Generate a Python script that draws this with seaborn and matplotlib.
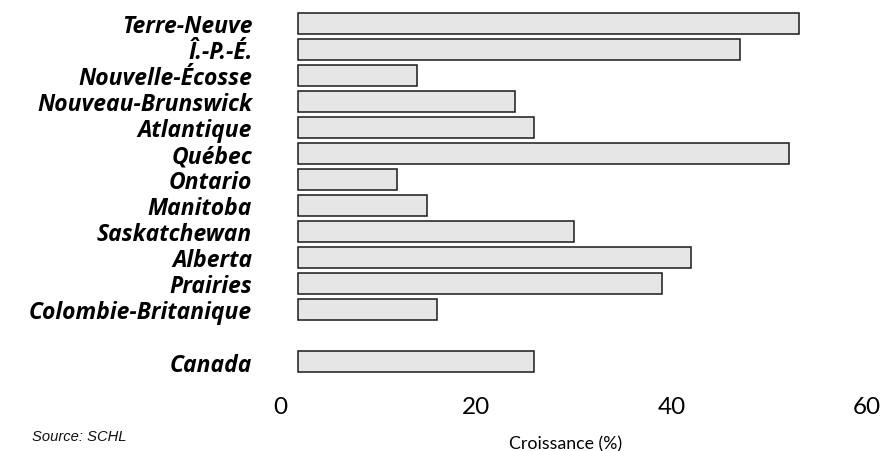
import matplotlib
matplotlib.use("Agg")
import matplotlib.pyplot as plt
import seaborn as sns
import pandas as pd

# Data
regions = ['Terre-Neuve', 'Î.-P.-É.', 'Nouvelle-Écosse', 'Nouveau-Brunswick',
           'Atlantique', 'Québec', 'Ontario', 'Manitoba', 'Saskatchewan',
           'Alberta', 'Prairies', 'Colombie-Britanique', 'Canada']
growth = [53, 47, 14, 24, 26, 52, 12, 15, 30, 42, 39, 16, 26]
order = regions[:-1] + [' '] + regions[-1:]   # empty slot before Canada
xticks = [0, 20, 40, 60]

df = pd.DataFrame({'region': regions, 'growth': growth})

sns.set_theme(style='white')
plt.rcParams['font.family'] = ['Lato', 'DejaVu Sans']

fig = plt.figure(figsize=(8.83, 4.52), dpi=100)
ax = fig.add_axes([0.3171, 0.1692, 0.6648, 0.806])

sns.barplot(data=df, x='growth', y='region', order=order, orient='h',
            color='#e6e6e6', edgecolor='#1a1a1a', linewidth=1.1,
            width=0.82, saturation=1, ax=ax)

# bars in the source start a little right of the zero tick
base = 1.84
for bar in ax.patches:
    bar.set_width(bar.get_width() - base)
    bar.set_x(base)

ax.set_xlim(0, 60)
ax.set_ylim(len(order) - 0.5, -0.5)
sns.despine(ax=ax, left=True, bottom=True)

ax.set_xticks([])
ax.set_xlabel('')
ax.set_ylabel('')
ax.tick_params(axis='y', length=0, pad=20)
for lab in ax.get_yticklabels():
    lab.set_family(['Open Sans', 'DejaVu Sans'])
    lab.set_fontsize(16.5)
    lab.set_fontweight('bold')
    lab.set_fontstyle('italic')
    lab.set_color('black')

tr = ax.get_xaxis_transform()
for v in xticks:
    ax.text(v, -0.0865, str(v), transform=tr, ha='center', va='center',
            fontsize=17.5, color='black', clip_on=False)

fig.text(566 / 883, 1 - 444 / 452, 'Croissance (%)', ha='center', va='center',
         fontsize=12.8, color='black')
fig.text(32 / 883, 1 - 437 / 452, 'Source: SCHL', ha='left', va='center',
         fontsize=10.6, style='italic', family='Liberation Sans', color='#111')

fig.savefig('out.png', dpi=100)
